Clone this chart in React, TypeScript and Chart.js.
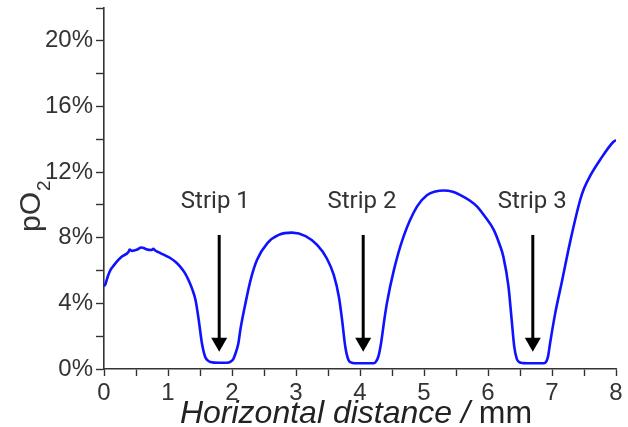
import React, { useEffect, useRef } from "react";
import { Chart, registerables } from "chart.js";

Chart.register(...registerables);

// Horizontal distance (mm)
const distance = [
  0.0, 0.02, 0.06, 0.1, 0.15, 0.2, 0.28, 0.385, 0.4, 0.44, 0.52, 0.58, 0.62, 0.66, 0.74, 0.77,
  0.8, 0.85, 0.94, 1.04, 1.12, 1.19, 1.26, 1.32, 1.38, 1.43, 1.48, 1.53, 1.58, 1.62, 1.66, 1.8,
  1.92, 1.98, 2.02, 2.05, 2.1, 2.13, 2.21, 2.29, 2.39, 2.55, 2.73, 2.94, 3.15, 3.33, 3.48,
  3.59, 3.67, 3.72, 3.77, 3.82, 3.86, 3.92, 4.21, 4.25, 4.29, 4.33, 4.38, 4.42, 4.53, 4.68,
  4.89, 5.05, 5.18, 5.31, 5.45, 5.57, 5.72, 5.83, 5.96, 6.09, 6.18, 6.24, 6.32, 6.37, 6.41,
  6.45, 6.49, 6.55, 6.61, 6.87, 6.91, 6.94, 6.97, 7.05, 7.16, 7.29, 7.44, 7.5, 7.6, 7.75,
  7.96, 8.0,
];
// pO2 (%)
const pO2 = [
  5.05, 5.15, 5.65, 6.03, 6.3, 6.54, 6.85, 7.15, 7.28, 7.2, 7.28, 7.4, 7.38, 7.3, 7.25, 7.32,
  7.22, 7.12, 6.95, 6.75, 6.52, 6.24, 5.87, 5.42, 4.85, 4.2, 2.99, 1.57, 0.75, 0.52, 0.43, 0.38,
  0.38, 0.45, 0.6, 0.9, 1.57, 2.38, 4.0, 5.42, 6.64, 7.66, 8.17, 8.31, 8.1, 7.56, 6.75,
  5.73, 4.4, 2.99, 1.36, 0.55, 0.4, 0.35, 0.35, 0.45, 0.8, 1.6, 3.0, 4.0, 6.04, 8.07,
  9.9, 10.6, 10.82, 10.88, 10.8, 10.6, 10.25, 9.9, 9.25, 8.48, 7.6, 6.85, 5.02, 2.99, 1.36,
  0.62, 0.42, 0.36, 0.35, 0.35, 0.45, 0.8, 1.57, 3.39, 5.43, 7.87, 10.3, 11.0, 11.8, 12.74,
  13.85, 13.95,
];

// Annotations
const stripLabels = ["Strip 1", "Strip 2", "Strip 3"];
const stripLabelX = [1.74, 4.03, 6.69];
const stripLabelY = 9.8;
const arrowX = [1.8, 4.05, 6.7];
const arrowTop = 8.17;
const arrowTip = 1.05;

const xTickValues = [0, 1, 2, 3, 4, 5, 6, 7, 8];
const yTickValues = [0, 4, 8, 12, 16, 20];
const xTitleItalic = "Horizontal distance / ";
const xTitleUnit = "mm";

const TEXT = "#333333";

const annotationPlugin = {
  id: "stripAnnotations",
  afterDatasetsDraw(chart: any) {
    const { ctx, scales } = chart;
    const xs = scales.x;
    const ys = scales.y;
    ctx.save();
    // arrows
    ctx.fillStyle = "#000";
    ctx.strokeStyle = "#000";
    arrowX.forEach((v) => {
      const px = xs.getPixelForValue(v);
      const top = ys.getPixelForValue(arrowTop);
      const tip = ys.getPixelForValue(arrowTip);
      const headH = 14;
      const headW = 8;
      ctx.lineWidth = 3;
      ctx.beginPath();
      ctx.moveTo(px, top);
      ctx.lineTo(px, tip - headH + 1);
      ctx.stroke();
      ctx.beginPath();
      ctx.moveTo(px - headW, tip - headH);
      ctx.lineTo(px + headW, tip - headH);
      ctx.lineTo(px, tip);
      ctx.closePath();
      ctx.fill();
    });
    // strip labels
    ctx.fillStyle = TEXT;
    ctx.font = "24px Roboto";
    ctx.textAlign = "center";
    ctx.textBaseline = "alphabetic";
    stripLabels.forEach((t, i) => {
      ctx.fillText(t, xs.getPixelForValue(stripLabelX[i]), ys.getPixelForValue(stripLabelY));
    });
    // x axis title (italic text + upright unit)
    ctx.fillStyle = "#222";
    ctx.textAlign = "left";
    const italicFont = "italic 32px 'Liberation Sans'";
    const uprightFont = "32px 'Liberation Sans'";
    ctx.font = italicFont;
    const w1 = ctx.measureText(xTitleItalic).width;
    ctx.font = uprightFont;
    const w2 = ctx.measureText(xTitleUnit).width;
    const cx = (xs.left + xs.right) / 2 - 4;
    const startX = cx - (w1 + w2) / 2;
    const baseY = xs.bottom - 4;
    ctx.font = italicFont;
    ctx.fillText(xTitleItalic, startX, baseY);
    ctx.font = uprightFont;
    ctx.fillText(xTitleUnit, startX + w1, baseY);
    // y axis title pO2
    ctx.fillStyle = TEXT;
    ctx.translate(40, 232);
    ctx.rotate(-Math.PI / 2);
    ctx.font = "30px 'Liberation Sans'";
    ctx.fillText("pO", 0, 0);
    const w = ctx.measureText("pO").width;
    ctx.font = "19px 'Liberation Sans'";
    ctx.fillText("2", w + 1, 10);
    ctx.restore();
  },
};

export default function App() {
  const ref = useRef<HTMLCanvasElement | null>(null);

  useEffect(() => {
    document.body.style.margin = "0";
    const canvas = ref.current;
    if (!canvas) return;
    const points = distance.map((x, i) => ({ x, y: pO2[i] }));
    const chart = new Chart(canvas, {
      type: "line",
      data: {
        datasets: [
          {
            data: points,
            borderColor: "#0f12ff",
            borderWidth: 2.6,
            pointRadius: 0,
            cubicInterpolationMode: "monotone",
            fill: false,
          },
        ],
      },
      options: {
        animation: false,
        responsive: false,
        devicePixelRatio: 1,
        layout: { padding: { top: 8, right: 12, left: 0, bottom: 0 } },
        plugins: { legend: { display: false }, tooltip: { enabled: false } },
        scales: {
          x: {
            type: "linear",
            min: 0,
            max: 8,
            afterFit: (s: any) => {
              s.height = 58;
              s.paddingLeft = 0;
              s.paddingRight = 0;
            },
            border: { display: true, color: TEXT, width: 1.6 },
            grid: {
              drawOnChartArea: false,
              drawTicks: true,
              tickLength: 7,
              tickColor: TEXT,
              tickWidth: 1.4,
            },
            ticks: {
              stepSize: 0.5,
              autoSkip: false,
              maxRotation: 0,
              padding: 3,
              color: TEXT,
              font: { family: "'Liberation Sans'", size: 24 },
              callback: (v: any) => (xTickValues.includes(Number(v)) ? String(v) : ""),
            },
            title: { display: false },
          },
          y: {
            type: "linear",
            min: 0,
            max: 22,
            afterFit: (s: any) => {
              s.width = 104;
              s.paddingTop = 0;
              s.paddingBottom = 0;
            },
            border: { display: true, color: TEXT, width: 1.6 },
            grid: {
              drawOnChartArea: false,
              drawTicks: true,
              tickLength: 8,
              tickColor: TEXT,
              tickWidth: 1.4,
            },
            ticks: {
              stepSize: 2,
              autoSkip: false,
              padding: 3,
              color: TEXT,
              font: { family: "'Liberation Sans'", size: 24 },
              callback: (v: any) => (yTickValues.includes(Number(v)) ? v + "%" : ""),
            },
            title: { display: false },
          },
        },
      },
      plugins: [annotationPlugin],
    });
    return () => chart.destroy();
  }, []);

  return (
    <div style={{ width: 628, height: 427 }}>
      <canvas ref={ref} width={628} height={427} style={{ display: "block" }} />
    </div>
  );
}
